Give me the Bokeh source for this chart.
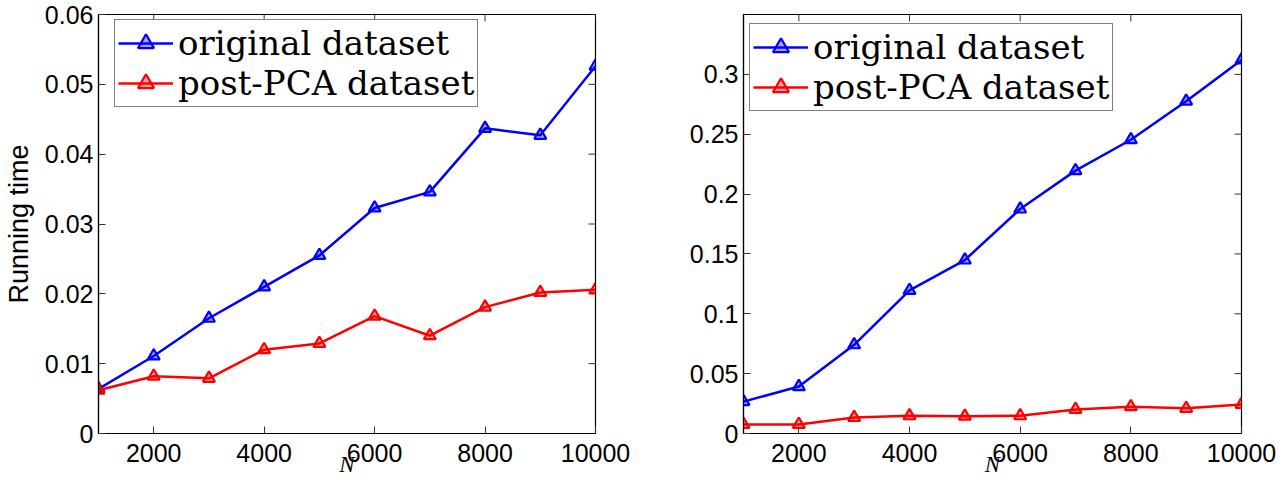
import math
from bokeh.plotting import figure
from bokeh.layouts import row
from bokeh.models import (Range1d, FixedTicker, CustomJSTickFormatter, Legend, LegendItem)
from bokeh.embed import file_html
from bokeh.resources import INLINE

N = [1000, 2000, 3000, 4000, 5000, 6000, 7000, 8000, 9000, 10000]

left_original = [0.0064, 0.0111, 0.0165, 0.0210, 0.0255, 0.0323, 0.0346, 0.0437, 0.0427, 0.0526]
left_pca = [0.0062, 0.0082, 0.0079, 0.0120, 0.0129, 0.0168, 0.0140, 0.0181, 0.0202, 0.0206]

right_original = [0.0266, 0.0392, 0.0741, 0.1195, 0.1449, 0.1875, 0.2196, 0.2454, 0.2776, 0.3120]
right_pca = [0.0076, 0.0076, 0.0134, 0.0148, 0.0145, 0.0148, 0.0201, 0.0224, 0.0210, 0.0243]

x_ticks = [2000, 4000, 6000, 8000, 10000]
left_y_ticks = [0, 0.01, 0.02, 0.03, 0.04, 0.05, 0.06]
right_y_ticks = [0, 0.05, 0.1, 0.15, 0.2, 0.25, 0.3]

series_labels = ["original dataset", "post-PCA dataset"]
series_colors = ["#0000ff", "#ff0000"]
x_label = "N"
y_label = "Running time"

fmt = CustomJSTickFormatter(code="return String(Number(tick.toFixed(4)));")

TICK_FONT = "Liberation Sans"
SERIF = "DejaVu Serif"
TICK_COLOR = "#333333"


def make_panel(width, border_left, border_right, xmin, xmax, ymax, yticks, ys, ylabel, leg_loc):
    p = figure(width=width, height=486, output_backend="svg", toolbar_location=None,
               x_range=Range1d(xmin, xmax), y_range=Range1d(0, ymax),
               min_border_left=border_left, min_border_right=border_right,
               min_border_top=14, min_border_bottom=53)
    p.grid.visible = False
    p.outline_line_color = "black"
    p.outline_line_width = 1.2
    p.background_fill_color = "white"
    p.border_fill_color = "white"

    for ax in (p.xaxis[0], p.yaxis[0]):
        ax.major_tick_in = 7
        ax.major_tick_out = 0
        ax.minor_tick_in = 0
        ax.minor_tick_out = 0
        ax.major_tick_line_color = TICK_COLOR
        ax.axis_line_color = "black"
        ax.axis_line_width = 1.2
        ax.major_label_text_font = TICK_FONT
        ax.major_label_text_font_size = "25px"
        ax.major_label_text_color = "black"
        ax.formatter = fmt

    p.xaxis[0].ticker = FixedTicker(ticks=x_ticks)
    p.yaxis[0].ticker = FixedTicker(ticks=yticks)
    p.xaxis[0].major_label_standoff = 10
    p.yaxis[0].major_label_standoff = 5

    p.xaxis[0].axis_label = x_label
    p.xaxis[0].axis_label_text_font = "Liberation Serif"
    p.xaxis[0].axis_label_text_font_style = "italic"
    p.xaxis[0].axis_label_text_font_size = "23px"
    p.xaxis[0].axis_label_text_color = "black"
    p.xaxis[0].axis_label_standoff = -13

    if ylabel:
        p.yaxis[0].axis_label = ylabel
        p.yaxis[0].axis_label_text_font = TICK_FONT
        p.yaxis[0].axis_label_text_font_style = "normal"
        p.yaxis[0].axis_label_text_font_size = "27px"
        p.yaxis[0].axis_label_text_color = "black"
        p.yaxis[0].axis_label_standoff = 8

    # inward tick marks on the top and right edges (half of each dash is clipped by the frame)
    p.scatter(x_ticks, [ymax] * len(x_ticks), marker="dash", size=14, angle=math.pi / 2,
              line_color=TICK_COLOR, line_width=1)
    p.scatter([xmax] * len(yticks), yticks, marker="dash", size=14, angle=0,
              line_color=TICK_COLOR, line_width=1)

    items = []
    for y, lab, col in zip(ys, series_labels, series_colors):
        ln = p.line(N, y, line_color=col, line_width=2.5)
        mk = p.scatter(N, y, marker="triangle", size=12, line_color=col, line_width=2.2,
                       fill_color=col, fill_alpha=0.35)
        items.append(LegendItem(label=lab, renderers=[ln, mk]))

    leg = Legend(items=items, location=leg_loc)
    leg.label_text_font = SERIF
    leg.label_text_font_size = "34px"
    leg.label_text_color = "black"
    leg.border_line_color = "black"
    leg.border_line_width = 1.5
    leg.background_fill_color = "white"
    leg.background_fill_alpha = 1
    leg.glyph_width = 55
    leg.glyph_height = 40
    leg.label_height = 40
    leg.label_standoff = 5
    leg.spacing = 0
    leg.padding = 3
    leg.margin = 0
    leg.label_text_baseline = "middle"
    p.add_layout(leg)
    return p


p1 = make_panel(640, 98, 45, 1000, 10000, 0.06, left_y_ticks,
                [left_original, left_pca], y_label, (16, 326))
p2 = make_panel(646, 103, 45, 1000, 10000, 0.35, right_y_ticks,
                [right_original, right_pca], None, (6, 322))

layout = row(p1, p2)
open("out.html", "w").write(file_html(layout, INLINE))
